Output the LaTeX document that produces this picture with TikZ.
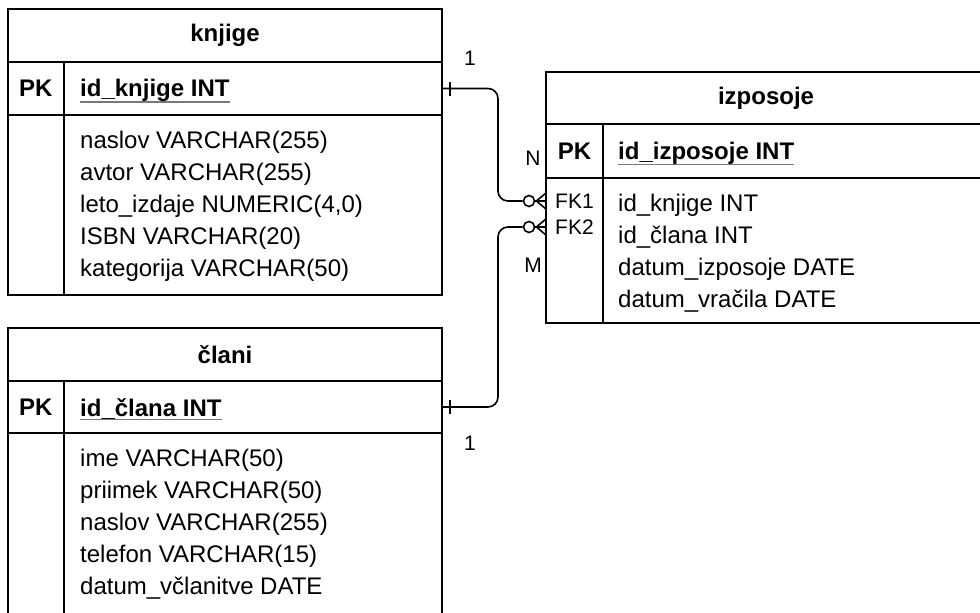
\documentclass[tikz,border=0pt]{standalone}
\usepackage{fontspec}
\setmainfont{Liberation Sans}
\usepackage{xcolor}
\definecolor{KeyGray}{RGB}{120, 120, 120}
\newcommand{\tblfont}{\fontsize{24}{32}\selectfont}
\newcommand{\lblfont}{\fontsize{21}{27}\selectfont}
\usepackage{tikz}
\usetikzlibrary{positioning, calc}

\begin{document}
\begin{tikzpicture}[
        x=1pt, y=-1pt,
        node distance=0pt,
        row/.style={rectangle, draw=black, line width=2pt, outer sep=0pt, inner sep=0pt, minimum width=434pt, font=\tblfont\bfseries},
        pklbl/.style={inner sep=0pt, font=\tblfont\bfseries},
        keytxt/.style={inner sep=0pt, anchor=west, font=\tblfont\bfseries},
        fields/.style={inner sep=0pt, anchor=base west, align=left, font=\tblfont},
        fk/.style={inner sep=0pt, font=\lblfont},
        card/.style={inner sep=0pt, font=\lblfont},
        uline/.style={draw=KeyGray, line width=1.6pt},
        conn/.style={draw=black, line width=1.6pt},
        ring/.style={circle, draw=black, fill=white, line width=1.6pt, minimum size=11pt, inner sep=0pt}
    ]
        \useasboundingbox (0,0) rectangle (980,613);
        \clip (0,0) rectangle (980,613);

        % knjige
        \node[row, minimum height=53pt] (k-title) at (225,35.5) {knjige};
        \node[row, minimum height=53pt, below=of k-title] (k-pk) {};
        \node[row, minimum height=180pt, below=of k-pk] (k-body) {};
        \draw[line width=2pt] ([xshift=55.5pt]k-pk.north west) -- ([xshift=55.5pt]k-body.south west);
        \node[pklbl] (k-pkl) at ($(k-pk.west)+(27.75,0)$) {PK};
        \node[keytxt] (k-key) at ($(k-pk.west)+(72,2)$) {id\_knjige INT};
        \draw[uline] (k-key.south west) -- (k-key.south east);
        % last line sits on the base anchor
        \node[fields] (k-fields) at ($(k-body.north west)+(72,161)$) {naslov VARCHAR(255)\\avtor VARCHAR(255)\\leto\_izdaje NUMERIC(4,0)\\ISBN VARCHAR(20)\\kategorija VARCHAR(50)};

        % clani
        \node[row, minimum height=53pt] (c-title) at (225,354.5) {člani};
        \node[row, minimum height=52pt, below=of c-title] (c-pk) {};
        \node[row, minimum height=200pt, below=of c-pk] (c-body) {};
        \draw[line width=2pt] ([xshift=55.5pt]c-pk.north west) -- ([xshift=55.5pt]c-body.south west);
        \node[pklbl] (c-pkl) at ($(c-pk.west)+(27.75,0)$) {PK};
        \node[keytxt] (c-key) at ($(c-pk.west)+(72,2)$) {id\_člana INT};
        \draw[uline] (c-key.south west) -- (c-key.south east);
        \node[fields] (c-fields) at ($(c-body.north west)+(72,161)$) {ime VARCHAR(50)\\priimek VARCHAR(50)\\naslov VARCHAR(255)\\telefon VARCHAR(15)\\datum\_včlanitve DATE};

        % izposoje
        \node[row, minimum width=440pt, minimum height=52pt] (i-title) at (766,98) {izposoje};
        \node[row, minimum width=440pt, minimum height=54pt, below=of i-title] (i-pk) {};
        \node[row, minimum width=440pt, minimum height=145pt, below=of i-pk] (i-body) {};
        \draw[line width=2pt] ([xshift=57pt]i-pk.north west) -- ([xshift=57pt]i-body.south west);
        \node[pklbl] (i-pkl) at ($(i-pk.west)+(28.5,0)$) {PK};
        \node[keytxt] (i-key) at ($(i-pk.west)+(72,2)$) {id\_izposoje INT};
        \draw[uline] (i-key.south west) -- (i-key.south east);
        \node[fk] (fk1) at ($(i-body.north west)+(28.5,23)$) {FK1};
        \node[fk] (fk2) at ($(i-body.north west)+(28.5,49)$) {FK2};
        \node[fields] (i-fields) at ($(i-body.north west)+(72,129)$) {id\_knjige INT\\id\_člana INT\\datum\_izposoje DATE\\datum\_vračila DATE};

        % relationships
        \coordinate (bendx) at (498,0);
        \node[ring] (r1) at ($(i-body.west |- fk1)+(-17,0)$) {};
        \node[ring] (r2) at ($(i-body.west |- fk2)+(-17,0)$) {};

        \draw[conn, rounded corners=10pt] (k-pk.east) -| (bendx |- r1) -- (r1.west);
        \draw[conn] ($(k-pk.east)+(8,-7)$) -- ++(0,14);
        \draw[conn] (r1.east) -- (i-body.west |- r1);
        \draw[conn] ($(r1.east)+(1,0)$) -- ($(i-body.west |- r1)+(0,-8)$);
        \draw[conn] ($(r1.east)+(1,0)$) -- ($(i-body.west |- r1)+(0,8)$);

        \draw[conn, rounded corners=10pt] (c-pk.east) -| (bendx |- r2) -- (r2.west);
        \draw[conn] ($(c-pk.east)+(8,-7)$) -- ++(0,14);
        \draw[conn] (r2.east) -- (i-body.west |- r2);
        \draw[conn] ($(r2.east)+(1,0)$) -- ($(i-body.west |- r2)+(0,-8)$);
        \draw[conn] ($(r2.east)+(1,0)$) -- ($(i-body.west |- r2)+(0,8)$);

        \node[card] (k-card) at (470,58) {1};
        \node[card] (n-card) at (533,158) {N};
        \node[card] (m-card) at (533,265) {M};
        \node[card] (c-card) at (470,443) {1};
    \end{tikzpicture}
\end{document}
